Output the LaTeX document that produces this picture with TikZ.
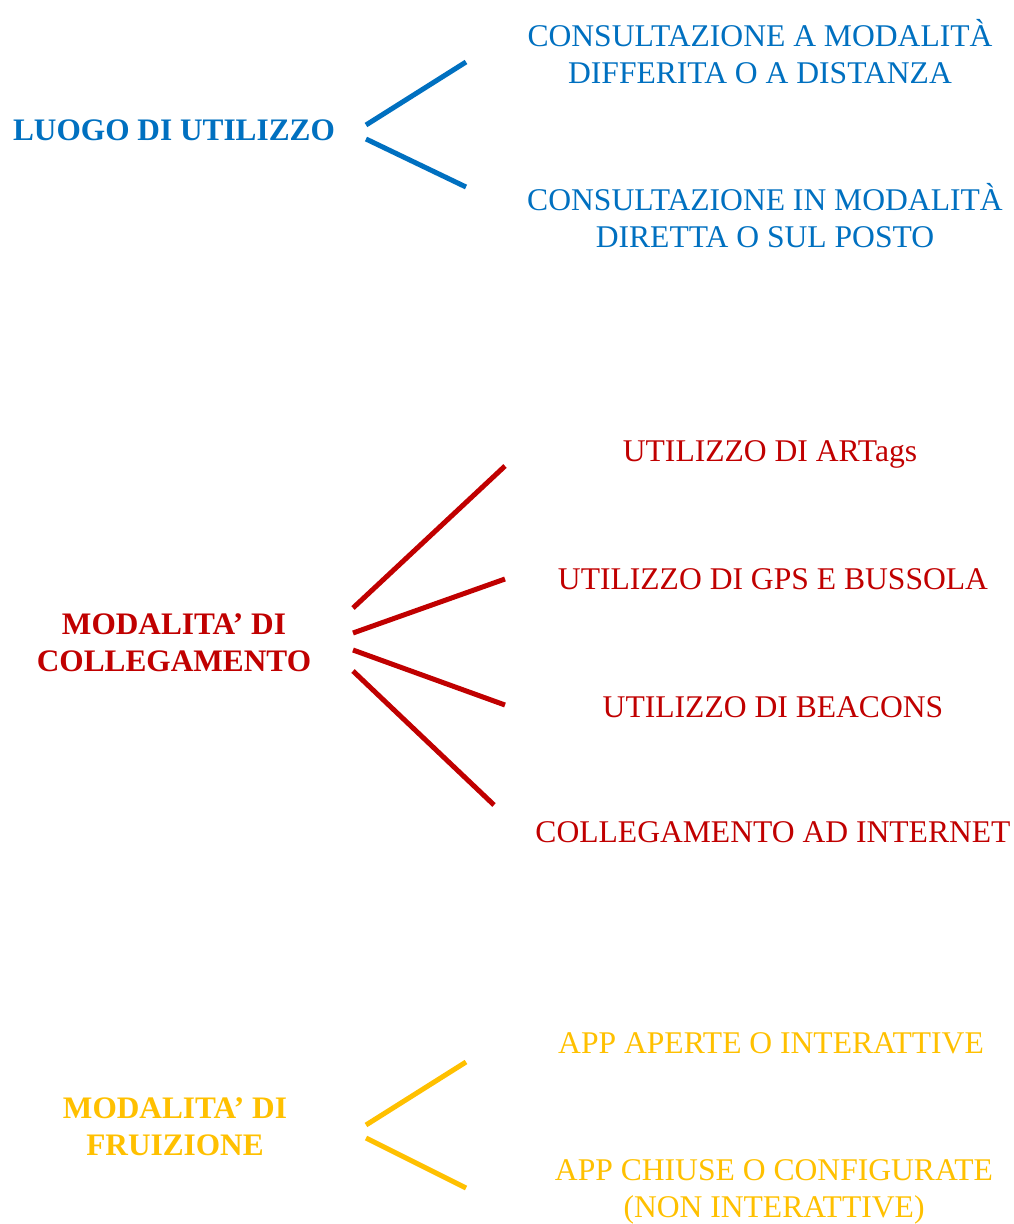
\documentclass[tikz,border=0pt]{standalone}
\usepackage{fontspec}
\setmainfont{Liberation Serif}
\definecolor{luogoblue}{HTML}{0070C0}
\definecolor{collred}{HTML}{C00000}
\definecolor{fruigold}{HTML}{FFC000}
\tikzset{
  voce/.style={align=center, inner sep=0pt, anchor=base, font=\fontsize{31.6}{37}\selectfont},
  titolo/.style={voce, font=\fontsize{31.3}{37}\selectfont\bfseries},
  ramo/.style={line width=5pt}
}
\begin{document}
\begin{tikzpicture}[x=1pt,y=-1pt]
        \useasboundingbox (0,0) rectangle (1013,1224);
        % luogo di utilizzo
        \node[titolo, luogoblue] (luogo) at (174,140) {LUOGO DI UTILIZZO};
        \node[voce, luogoblue] (differita) at (760,83) {CONSULTAZIONE A MODALITÀ\\DIFFERITA O A DISTANZA};
        \node[voce, luogoblue] (diretta) at (765,247) {CONSULTAZIONE IN MODALITÀ\\DIRETTA O SUL POSTO};
        \coordinate (l0a) at (366,125);
        \coordinate (l0b) at (366,139);
        \coordinate (l1) at (466,62);
        \coordinate (l2) at (466,187);
        \draw[ramo, luogoblue] (l0a) -- (l1);
        \draw[ramo, luogoblue] (l0b) -- (l2);
        % modalita di collegamento
        \node[titolo, collred] (colleg) at (174,671) {MODALITA’ DI\\COLLEGAMENTO};
        \node[voce, collred] (artags) at (770,461) {UTILIZZO DI ARTags};
        \node[voce, collred] (gps) at (773,589) {UTILIZZO DI GPS E BUSSOLA};
        \node[voce, collred] (beacons) at (773,717) {UTILIZZO DI BEACONS};
        \node[voce, collred] (internet) at (773,842) {COLLEGAMENTO AD INTERNET};
        \coordinate (c0a) at (353,608);
        \coordinate (c0b) at (353,633);
        \coordinate (c0c) at (353,650);
        \coordinate (c0d) at (353,671);
        \coordinate (c1) at (505,466);
        \coordinate (c2) at (505,579);
        \coordinate (c3) at (505,705);
        \coordinate (c4) at (494,805);
        \draw[ramo, collred] (c0a) -- (c1);
        \draw[ramo, collred] (c0b) -- (c2);
        \draw[ramo, collred] (c0c) -- (c3);
        \draw[ramo, collred] (c0d) -- (c4);
        % modalita di fruizione
        \node[titolo, fruigold] (fruiz) at (175,1155) {MODALITA’ DI\\FRUIZIONE};
        \node[voce, fruigold] (aperte) at (771,1053) {APP APERTE O INTERATTIVE};
        \node[voce, fruigold] (chiuse) at (774,1217) {APP CHIUSE O CONFIGURATE\\(NON INTERATTIVE)};
        \coordinate (f0a) at (366,1125);
        \coordinate (f0b) at (366,1138);
        \coordinate (f1) at (466,1062);
        \coordinate (f2) at (466,1188);
        \draw[ramo, fruigold] (f0a) -- (f1);
        \draw[ramo, fruigold] (f0b) -- (f2);
\end{tikzpicture}
\end{document}
